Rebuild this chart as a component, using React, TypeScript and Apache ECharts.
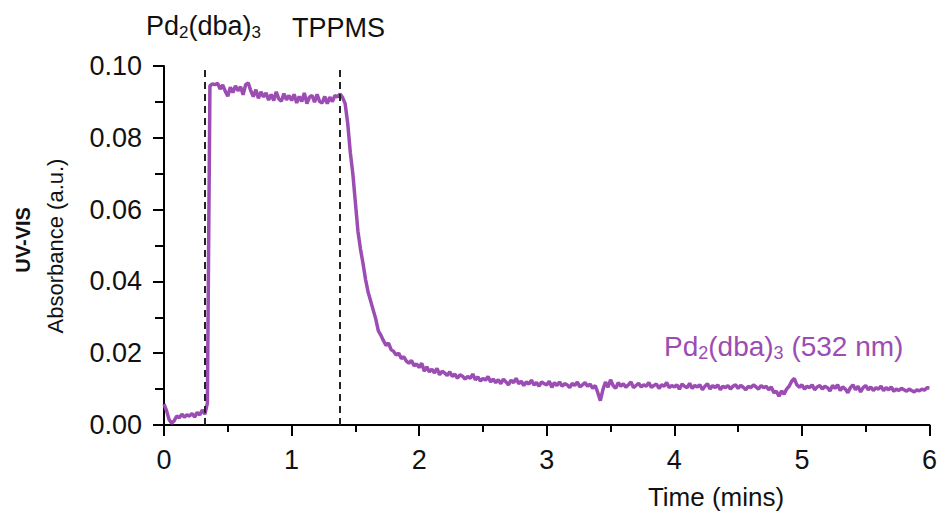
import React, { useEffect, useRef } from "react";
import * as echarts from "echarts";

// Sampling interval of the trace (minutes)
const SAMPLE_STEP_MIN = 0.02;

// Absorbance at 532 nm, one value every 0.02 min from 0 to 6 min
const absorbance: number[] = [
  0.0058, 0.0040, 0.0015, 0.0005, 0.0012, 0.0025, 0.0020, 0.0030, 0.0022, 0.0028,
  0.0025, 0.0032, 0.0022, 0.0035, 0.0028, 0.0042, 0.0030, 0.0060, 0.0945, 0.0950,
  0.0948, 0.0952, 0.0936, 0.0947, 0.0930, 0.0916, 0.0941, 0.0926, 0.0945, 0.0931,
  0.0942, 0.0920, 0.0948, 0.0953, 0.0931, 0.0915, 0.0934, 0.0910, 0.0928, 0.0914,
  0.0925, 0.0905, 0.0921, 0.0904, 0.0928, 0.0908, 0.0902, 0.0923, 0.0906, 0.0918,
  0.0904, 0.0921, 0.0897, 0.0915, 0.0901, 0.0925, 0.0895, 0.0913, 0.0918, 0.0899,
  0.0921, 0.0901, 0.0897, 0.0915, 0.0895, 0.0913, 0.0901, 0.0918, 0.0914, 0.0922,
  0.0912, 0.0895, 0.0840, 0.0760, 0.0700, 0.0620, 0.0540, 0.0490, 0.0450, 0.0405,
  0.0370, 0.0345, 0.0320, 0.0295, 0.0262, 0.0250, 0.0235, 0.0222, 0.0228, 0.0210,
  0.0205, 0.0195, 0.0200, 0.0185, 0.0190, 0.0178, 0.0172, 0.0180, 0.0165, 0.0170,
  0.0160, 0.0172, 0.0150, 0.0162, 0.0148, 0.0155, 0.0145, 0.0158, 0.0140, 0.0150,
  0.0145, 0.0138, 0.0148, 0.0135, 0.0142, 0.0130, 0.0140, 0.0136, 0.0128, 0.0135,
  0.0130, 0.0142, 0.0126, 0.0134, 0.0122, 0.0130, 0.0125, 0.0135, 0.0120, 0.0128,
  0.0118, 0.0126, 0.0115, 0.0128, 0.0120, 0.0112, 0.0125, 0.0118, 0.0130, 0.0115,
  0.0122, 0.0110, 0.0120, 0.0114, 0.0125, 0.0112, 0.0118, 0.0108, 0.0120, 0.0115,
  0.0112, 0.0122, 0.0105, 0.0118, 0.0110, 0.0120, 0.0108, 0.0115, 0.0112, 0.0104,
  0.0116, 0.0110, 0.0120, 0.0106, 0.0112, 0.0118, 0.0108, 0.0114, 0.0102, 0.0110,
  0.0090, 0.0068, 0.0098, 0.0120, 0.0105, 0.0126, 0.0110, 0.0102, 0.0118, 0.0108,
  0.0115, 0.0105, 0.0112, 0.0120, 0.0104, 0.0110, 0.0116, 0.0106, 0.0112, 0.0108,
  0.0118, 0.0105, 0.0110, 0.0114, 0.0102, 0.0112, 0.0108, 0.0118, 0.0104, 0.0110,
  0.0106, 0.0112, 0.0100, 0.0114, 0.0108, 0.0104, 0.0116, 0.0102, 0.0110, 0.0106,
  0.0112, 0.0098, 0.0108, 0.0115, 0.0100, 0.0110, 0.0104, 0.0112, 0.0098, 0.0108,
  0.0104, 0.0110, 0.0100, 0.0108, 0.0112, 0.0102, 0.0110, 0.0105, 0.0098, 0.0108,
  0.0104, 0.0112, 0.0106, 0.0100, 0.0110, 0.0104, 0.0108, 0.0098, 0.0106, 0.0090,
  0.0094, 0.0080, 0.0095, 0.0086, 0.0100, 0.0108, 0.0122, 0.0130, 0.0112, 0.0105,
  0.0112, 0.0100, 0.0108, 0.0104, 0.0112, 0.0098, 0.0106, 0.0110, 0.0100, 0.0108,
  0.0104, 0.0095, 0.0110, 0.0102, 0.0112, 0.0096, 0.0106, 0.0100, 0.0090, 0.0104,
  0.0112, 0.0098, 0.0108, 0.0092, 0.0104, 0.0110, 0.0098, 0.0106, 0.0096, 0.0104,
  0.0100, 0.0108, 0.0096, 0.0104, 0.0098, 0.0106, 0.0094, 0.0100, 0.0096, 0.0102,
  0.0098, 0.0094, 0.0100, 0.0096, 0.0092, 0.0098, 0.0095, 0.0100, 0.0097, 0.0104,
  0.0103,
];

// Additions (dashed markers): time in minutes and label
const eventTimes: number[] = [0.32, 1.38];
const eventLabels: string[] = ["Pd2(dba)3", "TPPMS"];

const xTicks = { min: 0, max: 6, interval: 1 };
const yTicks = { min: 0, max: 0.1, interval: 0.02 };

const PURPLE = "#9b4db3";
const FONT = "'Liberation Sans', Arial, Helvetica, sans-serif";

export default function App() {
  const ref = useRef<HTMLDivElement>(null);

  useEffect(() => {
    if (!ref.current) return;
    const chart = echarts.init(ref.current, undefined, { renderer: "svg" });

    const data = absorbance.map((v, i) => [
      Math.round(i * SAMPLE_STEP_MIN * 1000) / 1000,
      v,
    ]);

    const makeRich = (c: string, size: number, subSize: number, pad: number) => ({
      b: { fontSize: size, fontFamily: FONT, fill: c, color: c },
      s: { fontSize: subSize, fontFamily: FONT, fill: c, color: c, padding: [pad, 0, 0, 0] },
    });

    chart.setOption({
      animation: false,
      backgroundColor: "#ffffff",
      grid: { left: 164, right: 10, top: 66, bottom: 96 },
      xAxis: {
        type: "value",
        min: xTicks.min,
        max: xTicks.max,
        interval: xTicks.interval,
        axisLine: { show: true, onZero: false, lineStyle: { color: "#000", width: 2 } },
        axisTick: { show: true, length: 11, lineStyle: { color: "#000", width: 2 } },
        minorTick: { show: true, splitNumber: 2, length: 7, lineStyle: { color: "#000", width: 2 } },
        splitLine: { show: false },
        axisLabel: { fontSize: 27, fontFamily: FONT, color: "#111", margin: 21 },
      },
      yAxis: {
        type: "value",
        min: yTicks.min,
        max: yTicks.max,
        interval: yTicks.interval,
        axisLine: { show: true, onZero: false, lineStyle: { color: "#000", width: 2 } },
        axisTick: { show: true, length: 11, lineStyle: { color: "#000", width: 2 } },
        minorTick: { show: true, splitNumber: 2, length: 9, lineStyle: { color: "#000", width: 2 } },
        splitLine: { show: false },
        axisLabel: {
          fontSize: 27,
          fontFamily: FONT,
          color: "#111",
          margin: 22,
          formatter: (v: number) => v.toFixed(2),
        },
      },
      series: [
        {
          type: "line",
          data,
          showSymbol: false,
          symbol: "none",
          lineStyle: { color: PURPLE, width: 3.5 },
          markLine: {
            silent: true,
            symbol: "none",
            label: { show: false },
            lineStyle: { color: "#222", type: [7, 5], width: 2 },
            data: eventTimes.map((t) => ({ xAxis: t })),
          },
        },
      ],
      graphic: [
        {
          type: "text",
          left: 146,
          top: 12,
          style: {
            text: "{b|Pd}{s|2}{b|(dba)}{s|3}",
            rich: makeRich("#111", 27, 17, 14),
            fontFamily: FONT,
          },
        },
        {
          type: "text",
          left: 292,
          top: 14,
          style: {
            text: eventLabels[1],
            fontSize: 27,
            fontFamily: FONT,
            fill: "#111",
          },
        },
        {
          type: "text",
          left: 664,
          top: 332,
          style: {
            text: "{b|Pd}{s|2}{b|(dba)}{s|3}{b| (532 nm)}",
            rich: makeRich(PURPLE, 28, 18, 14),
            fontFamily: FONT,
            fill: PURPLE,
          },
        },
        {
          type: "text",
          x: 716,
          y: 497,
          style: {
            text: "Time (mins)",
            fontSize: 26,
            fontFamily: FONT,
            fill: "#111",
            align: "center",
            verticalAlign: "middle",
          },
        },
        {
          type: "text",
          x: 23,
          y: 240,
          rotation: Math.PI / 2,
          style: {
            text: "UV-VIS",
            fontSize: 20,
            fontWeight: "bold",
            fontFamily: FONT,
            fill: "#111",
            align: "center",
            verticalAlign: "middle",
          },
        },
        {
          type: "text",
          x: 55,
          y: 246,
          rotation: Math.PI / 2,
          style: {
            text: "Absorbance (a.u.)",
            fontSize: 22,
            fontFamily: FONT,
            fill: "#111",
            align: "center",
            verticalAlign: "middle",
          },
        },
      ],
    });

    return () => chart.dispose();
  }, []);

  return (
    <div
      ref={ref}
      style={{ position: "fixed", left: 0, top: 0, width: 940, height: 521 }}
    />
  );
}
